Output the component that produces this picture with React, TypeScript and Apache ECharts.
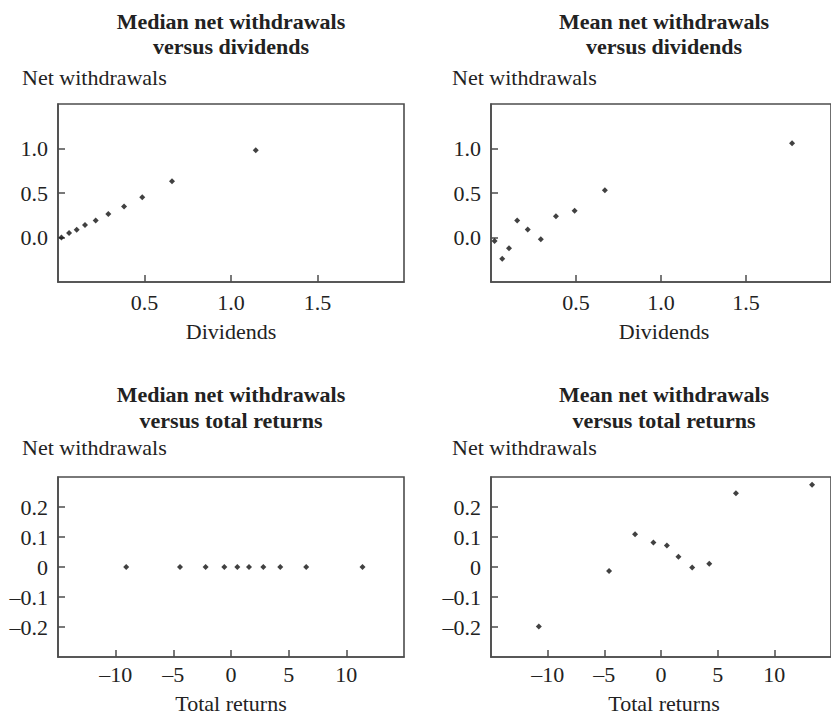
import React, { useEffect, useRef } from "react";
import * as echarts from "echarts";

// Top-left: median net withdrawals vs dividends
const divMedianX = [0.02, 0.064, 0.108, 0.156, 0.218, 0.291, 0.382, 0.487, 0.659, 1.143];
const divMedianY = [0.0, 0.05, 0.087, 0.14, 0.19, 0.265, 0.347, 0.452, 0.633, 0.981];
// Top-right: mean net withdrawals vs dividends
const divMeanX = [0.021, 0.066, 0.106, 0.154, 0.216, 0.293, 0.382, 0.492, 0.67, 1.771];
const divMeanY = [-0.04, -0.24, -0.12, 0.19, 0.09, -0.02, 0.24, 0.3, 0.53, 1.06];
// Bottom-left: median net withdrawals vs total returns
const retMedianX = [-9.09, -4.42, -2.2, -0.58, 0.55, 1.56, 2.8, 4.27, 6.52, 11.4];
const retMedianY = [0, 0, 0, 0, 0, 0, 0, 0, 0, 0];
// Bottom-right: mean net withdrawals vs total returns
const retMeanX = [-10.78, -4.58, -2.29, -0.67, 0.52, 1.54, 2.75, 4.26, 6.61, 13.33];
const retMeanY = [-0.198, -0.013, 0.109, 0.082, 0.072, 0.034, -0.002, 0.011, 0.246, 0.274];

const panelTitles = [
  ["Median net withdrawals", "versus dividends"],
  ["Mean net withdrawals", "versus dividends"],
  ["Median net withdrawals", "versus total returns"],
  ["Mean net withdrawals", "versus total returns"],
];
const yAxisTitle = "Net withdrawals";
const xAxisTitles = ["Dividends", "Dividends", "Total returns", "Total returns"];

const FONT = '"Liberation Serif", "Times New Roman", serif';
const AXIS_COLOR = "#4d4d4d";
const TEXT_COLOR = "#222";

function fmtSigned(s: string, v: number) {
  return v < 0 ? "\u2013" + s.replace("-", "") : s;
}

export default function App() {
  const ref = useRef<HTMLDivElement>(null);

  useEffect(() => {
    if (!ref.current) return;
    const chart = echarts.init(ref.current, undefined, { renderer: "svg" });

    const grids = [
      { left: 58, top: 104, width: 346, height: 178 },
      { left: 491, top: 104, width: 346, height: 178 },
      { left: 58, top: 477, width: 346, height: 180 },
      { left: 491, top: 477, width: 346, height: 180 },
    ].map((g) => ({
      ...g,
      show: true,
      borderColor: AXIS_COLOR,
      borderWidth: 1.6,
      backgroundColor: "transparent",
    }));

    const fmtDiv = (v: number) => fmtSigned((Math.round(v * 10) / 10).toFixed(1), v);
    const fmtRetY = (v: number) => {
      const r = Math.round(v * 10) / 10;
      if (r === 0) return "0";
      return fmtSigned(String(r), r);
    };
    const fmtRetX = (v: number) => {
      const r = Math.round(v);
      return fmtSigned(String(r), r);
    };

    const axisCommon = (labelMargin: number) => ({
      axisLine: { show: true, onZero: false, lineStyle: { color: AXIS_COLOR, width: 1.6 } },
      axisTick: { show: true, inside: true, length: 7, lineStyle: { color: AXIS_COLOR, width: 1.5 } },
      splitLine: { show: false },
      axisLabel: {
        showMinLabel: false,
        showMaxLabel: false,
        fontFamily: FONT,
        fontSize: 22,
        color: TEXT_COLOR,
        margin: labelMargin,
      },
    });

    const mkX = (i: number, min: number, max: number, interval: number, fmt: (v: number) => string, margin: number) => {
      const c = axisCommon(margin);
      return {
        type: "value",
        gridIndex: i,
        min,
        max,
        interval,
        ...c,
        axisLabel: { ...c.axisLabel, formatter: fmt },
      };
    };
    const mkY = (i: number, min: number, max: number, interval: number, fmt: (v: number) => string) => {
      const c = axisCommon(10);
      return {
        type: "value",
        gridIndex: i,
        min,
        max,
        interval,
        ...c,
        axisLabel: { ...c.axisLabel, formatter: fmt },
      };
    };

    const xAxis = [
      mkX(0, 0, 2, 0.5, fmtDiv, 9),
      mkX(1, 0, 2, 0.5, fmtDiv, 9),
      mkX(2, -15, 15, 5, fmtRetX, 6),
      mkX(3, -15, 15, 5, fmtRetX, 6),
    ];
    const yAxis = [
      mkY(0, -0.5, 1.5, 0.5, fmtDiv),
      mkY(1, -0.5, 1.5, 0.5, fmtDiv),
      mkY(2, -0.3, 0.3, 0.1, fmtRetY),
      mkY(3, -0.3, 0.3, 0.1, fmtRetY),
    ];

    const pairs = [
      [divMedianX, divMedianY],
      [divMeanX, divMeanY],
      [retMedianX, retMedianY],
      [retMeanX, retMeanY],
    ];
    const series = pairs.map(([xs, ys], i) => ({
      type: "scatter",
      xAxisIndex: i,
      yAxisIndex: i,
      symbol: "diamond",
      symbolSize: 6,
      itemStyle: { color: "#111" },
      data: xs.map((x, k) => [x, ys[k]]),
    }));

    const centers = [231, 664, 231, 664];
    const lefts = [22, 452, 22, 452];
    const titleY = [
      [21, 46],
      [21, 46],
      [394.5, 420],
      [394.5, 420],
    ];
    const yTitleY = [77.5, 77.5, 447.5, 447.5];
    const xTitleY = [331.5, 331.5, 703, 703];

    const graphic: any[] = [];
    panelTitles.forEach((lines, i) => {
      lines.forEach((t, j) => {
        graphic.push({
          type: "text",
          x: centers[i],
          y: titleY[i][j],
          style: {
            text: t,
            font: `bold 22px ${FONT}`,
            fill: TEXT_COLOR,
            align: "center",
            verticalAlign: "middle",
          },
        });
      });
      graphic.push({
        type: "text",
        x: lefts[i],
        y: yTitleY[i],
        style: {
          text: yAxisTitle,
          font: `22px ${FONT}`,
          fill: TEXT_COLOR,
          align: "left",
          verticalAlign: "middle",
        },
      });
      graphic.push({
        type: "text",
        x: centers[i],
        y: xTitleY[i],
        style: {
          text: xAxisTitles[i],
          font: `22px ${FONT}`,
          fill: TEXT_COLOR,
          align: "center",
          verticalAlign: "middle",
        },
      });
    });

    chart.setOption({
      animation: false,
      backgroundColor: "#fff",
      grid: grids,
      xAxis,
      yAxis,
      series,
      graphic,
    } as any);

    return () => chart.dispose();
  }, []);

  return (
    <div
      ref={ref}
      style={{ position: "absolute", left: 0, top: 0, width: 831, height: 716 }}
    />
  );
}
